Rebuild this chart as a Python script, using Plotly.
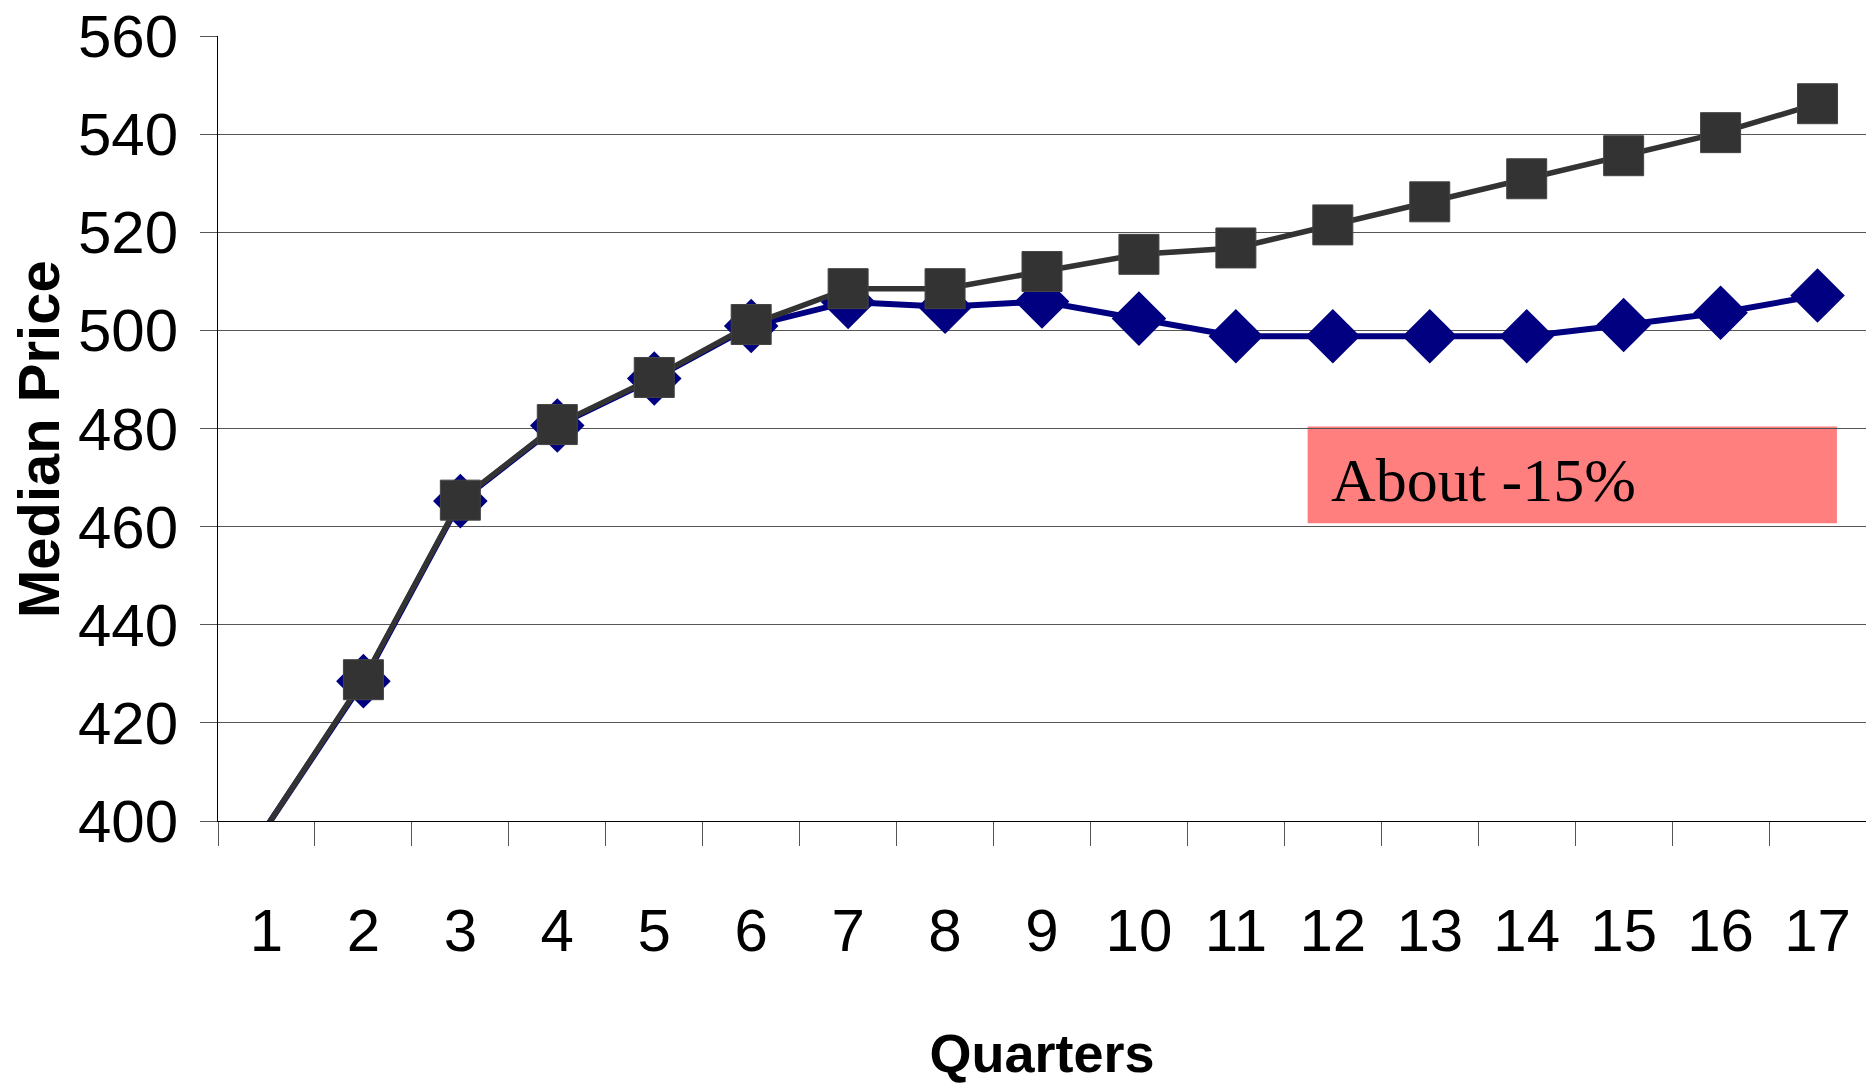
import plotly.graph_objects as go

# Quarter labels on the category axis
quarters = [str(q) for q in range(1, 18)]

# Median price per quarter, two scenarios
actual_price = [398.8, 428.5, 465.2, 480.6, 490.2, 500.9, 505.8, 504.8, 505.9,
                502.4, 498.8, 498.8, 498.8, 498.8, 501.1, 503.6, 507.1]
trend_price = [398.8, 428.8, 465.4, 480.8, 490.4, 501.2, 508.5, 508.5, 512.0,
               515.5, 516.8, 521.5, 526.2, 530.9, 535.6, 540.3, 546.2]

y_ticks = [400, 420, 440, 460, 480, 500, 520, 540, 560]
y_min, y_max = 400, 560

note_text = "About -15%"
x_title = "Quarters"
y_title = "Median Price"

SANS = "Liberation Sans Narrow, Arial Narrow, Liberation Sans, Arial, sans-serif"
NAVY = "#000080"
DARK = "#333333"


def in_range(xs, ys):
    pts = [(x, y) for x, y in zip(xs, ys) if y_min <= y <= y_max]
    return [p[0] for p in pts], [p[1] for p in pts]


fig = go.Figure()

# navy series: line, then diamond markers
fig.add_trace(go.Scatter(x=quarters, y=actual_price, mode="lines",
                         line=dict(color=NAVY, width=6), cliponaxis=False,
                         hoverinfo="skip", showlegend=False))
mx, my = in_range(quarters, actual_price)
fig.add_trace(go.Scatter(x=mx, y=my, mode="markers",
                         marker=dict(symbol="diamond", size=42, color=NAVY,
                                     line=dict(width=0)),
                         showlegend=False))

# dark series on top: line, then square markers
fig.add_trace(go.Scatter(x=quarters, y=trend_price, mode="lines",
                         line=dict(color=DARK, width=5.5), cliponaxis=False,
                         hoverinfo="skip", showlegend=False))
mx, my = in_range(quarters, trend_price)
fig.add_trace(go.Scatter(x=mx, y=my, mode="markers",
                         marker=dict(symbol="square", size=40, color=DARK,
                                     line=dict(width=1, color="#444444")),
                         showlegend=False))

# highlighted note box
fig.add_shape(type="rect", xref="x", yref="y",
              x0=10.74, x1=16.2, y0=460.7, y1=480.4,
              fillcolor="#FF7F7F", line=dict(width=0), layer="below")
fig.add_annotation(x=10.96, y=469.6, xref="x", yref="y", text=note_text,
                   showarrow=False, xanchor="left", yanchor="middle",
                   font=dict(family="Liberation Serif, Times New Roman, serif",
                             size=62, color="black"))

# vertical axis title
fig.add_annotation(x=-0.1092, y=0.4866, xref="paper", yref="paper",
                   text=y_title, textangle=-90, showarrow=False,
                   xanchor="center", yanchor="middle",
                   font=dict(family=SANS, size=58, color="black", weight="bold"))

fig.update_layout(
    width=1866, height=1083,
    margin=dict(l=218, r=0, t=36, b=262),
    paper_bgcolor="white", plot_bgcolor="white",
    font=dict(family=SANS, color="black"),
)

fig.update_xaxes(
    type="category", range=[-0.5, 16.5],
    tickson="boundaries", ticks="outside", ticklen=24, tickwidth=1,
    tickcolor="#555555",
    showline=True, linecolor="#000000", linewidth=1,
    showgrid=False, zeroline=False,
    tickfont=dict(family=SANS, size=60, color="black"),
    ticklabelstandoff=57,
    title=dict(text=x_title, standoff=71,
               font=dict(family=SANS, size=54, color="black", weight="bold")),
    automargin=False,
)

fig.update_yaxes(
    range=[y_min, y_max], tickvals=y_ticks,
    ticks="outside", ticklen=17, tickwidth=1, tickcolor="#555555",
    showline=True, linecolor="#000000", linewidth=1,
    showgrid=True, gridcolor="#555555", gridwidth=1,
    zeroline=False,
    tickfont=dict(family=SANS, size=60, color="black"),
    ticklabelstandoff=10, ticklabeloverflow="allow",
    automargin=False,
)

fig.write_html("out.html")
